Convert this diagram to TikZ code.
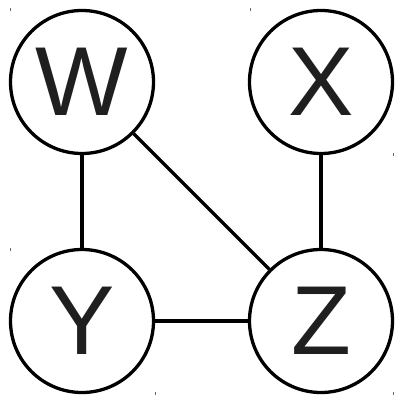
\documentclass[tikz,border=0pt]{standalone}
\usepackage{fontspec}
\setmainfont{Liberation Sans}
\begin{document}
\begin{tikzpicture}[x=1pt,y=-1pt,
  vert/.style={circle,draw=black,line width=3.3pt,minimum size=143pt,inner sep=0pt,
    font=\fontsize{98}{98}\selectfont,text=black!88},
  edge/.style={line width=3.3pt},
  tick/.style={line width=0.8pt,black!60}]
\useasboundingbox (0,0) rectangle (395,398);
\node[vert] (W) at (82,82) {W};
\node[vert] (X) at (321,82) {X};
\node[vert] (Y) at (82,321) {Y};
\node[vert] (Z) at (321,321) {Z};
\draw[edge] (W) -- (Y);
\draw[edge] (W) -- (Z);
\draw[edge] (X) -- (Z);
\draw[edge] (Y) -- (Z);
\coordinate (t1) at (10,8); \coordinate (t1b) at (10,11);
\coordinate (t2) at (250,8); \coordinate (t2b) at (250,11);
\coordinate (t3) at (10,248); \coordinate (t3b) at (10,251);
\coordinate (t4) at (155,392); \coordinate (t4b) at (155,395);
\coordinate (t5) at (393,392); \coordinate (t5b) at (393,395);
\coordinate (t6) at (393,153); \coordinate (t6b) at (393,156);
\foreach \t in {t1,t2,t3,t4,t5,t6} \draw[tick] (\t) -- (\t b);
\end{tikzpicture}
\end{document}
